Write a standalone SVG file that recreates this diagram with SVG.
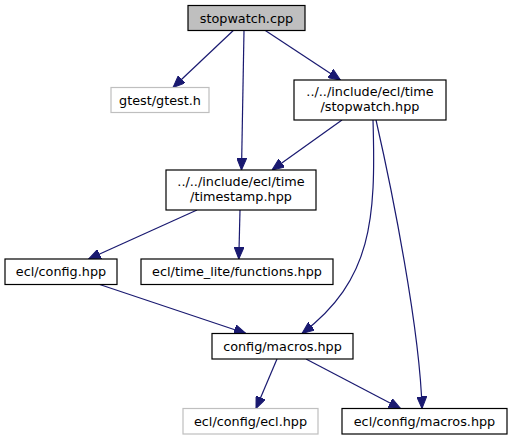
<svg xmlns="http://www.w3.org/2000/svg" width="511" height="440" viewBox="0 0 511 440">
<style>
.n rect{fill:#ffffff;stroke:#000000;stroke-width:1.2}
.n.g rect{stroke:#bfbfbf}
.n.root rect{fill:#bfbfbf}
.n text{font-family:"DejaVu Sans",sans-serif;font-size:12.8px;fill:#000000;text-anchor:middle}
#edges path{fill:none;stroke:#191970;stroke-width:1.2;marker-end:url(#arr)}
</style>
<defs>
<marker id="arr" markerUnits="userSpaceOnUse" viewBox="0 0 12 10" refX="12" refY="5" markerWidth="12" markerHeight="10" orient="auto">
<path d="M0,0 L12,5 L0,10 Z" fill="#191970" stroke="#191970" stroke-width="1"/>
</marker>
</defs>
<rect width="511" height="440" fill="#ffffff"/>
<g id="edges">
<path d="M233.3,30.5 L173,87.5"/>
<path d="M244,30.5 L241.5,170"/>
<path d="M265.3,30.5 L340.4,80"/>
<path d="M342,120 L272,170"/>
<path d="M197,210 L88.6,259"/>
<path d="M240,210 L238.8,259"/>
<path d="M99.7,284.5 L246,333.5"/>
<path d="M373,120 C376,220 372,280 302,333.5"/>
<path d="M376,120 C392,190 420,330 422,408.5"/>
<path d="M277,359 L256,408.5"/>
<path d="M306,359 L400.5,408.5"/>
</g>
<g id="stopwatch_cpp" class="n root"><rect x="188" y="5.5" width="117" height="25"/><text x="246.5" y="22.5">stopwatch.cpp</text></g>
<g id="gtest_h" class="n g"><rect x="111" y="87.5" width="98" height="25"/><text x="160" y="104.5">gtest/gtest.h</text></g>
<g id="stopwatch_hpp" class="n"><rect x="294" y="80" width="152" height="40"/><text x="370" y="96">../../include/ecl/time</text><text x="370" y="111">/stopwatch.hpp</text></g>
<g id="timestamp_hpp" class="n"><rect x="166" y="170" width="150" height="40"/><text x="241" y="186">../../include/ecl/time</text><text x="241" y="201">/timestamp.hpp</text></g>
<g id="config_hpp" class="n"><rect x="5" y="259" width="112" height="25.5"/><text x="61" y="276">ecl/config.hpp</text></g>
<g id="functions_hpp" class="n"><rect x="141" y="259" width="192" height="25.5"/><text x="237" y="276">ecl/time_lite/functions.hpp</text></g>
<g id="macros_hpp" class="n"><rect x="212" y="333.5" width="141" height="25.5"/><text x="282.5" y="350.5">config/macros.hpp</text></g>
<g id="ecl_hpp" class="n g"><rect x="183" y="408.5" width="135" height="25.5"/><text x="250.5" y="425.5">ecl/config/ecl.hpp</text></g>
<g id="ecl_macros_hpp" class="n"><rect x="342" y="408.5" width="165" height="25.5"/><text x="424.5" y="425.5">ecl/config/macros.hpp</text></g>
</svg>
